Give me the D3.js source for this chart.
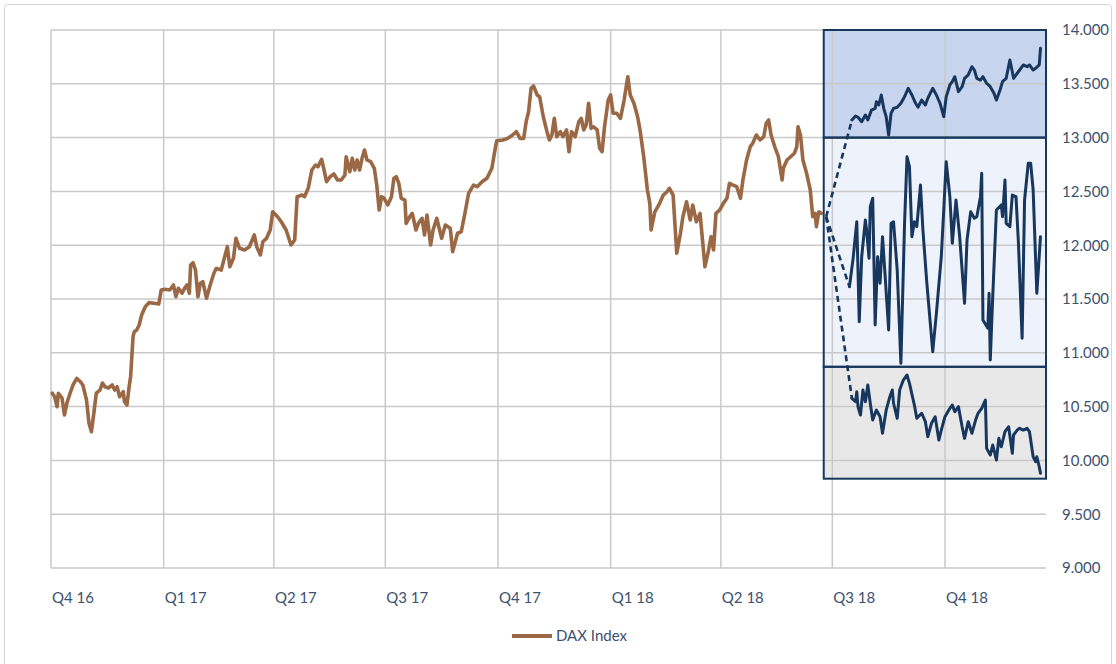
<!DOCTYPE html>
<html>
<head>
<meta charset="utf-8">
<script src="https://cdn.jsdelivr.net/npm/d3@7"></script>
<style>
  html, body { margin: 0; padding: 0; background: #ffffff; }
  svg { display: block; }
</style>
</head>
<body>
<svg id="chart" width="1116" height="664"></svg>
<script>
// ---------------- DATA ----------------
const seriesName = "DAX Index";

const daxDates = [
"2016-10-02","2016-10-04","2016-10-06","2016-10-07","2016-10-10","2016-10-12","2016-10-14","2016-10-17","2016-10-19","2016-10-22","2016-10-25","2016-10-27","2016-10-30",
"2016-11-01","2016-11-03","2016-11-05","2016-11-07","2016-11-10","2016-11-12","2016-11-14","2016-11-17","2016-11-20","2016-11-22","2016-11-24","2016-11-26","2016-11-29","2016-11-30",
"2016-12-02","2016-12-04","2016-12-05","2016-12-07","2016-12-08","2016-12-10","2016-12-12","2016-12-14","2016-12-17","2016-12-20","2016-12-24","2016-12-28","2016-12-30",
"2017-01-02","2017-01-06","2017-01-09","2017-01-11","2017-01-13","2017-01-16","2017-01-18","2017-01-20","2017-01-22","2017-01-23","2017-01-25","2017-01-27","2017-01-29","2017-01-31",
"2017-02-02","2017-02-05","2017-02-08","2017-02-11","2017-02-13","2017-02-17","2017-02-20","2017-02-22","2017-02-24","2017-02-27",
"2017-03-01","2017-03-04","2017-03-08","2017-03-12","2017-03-16","2017-03-18","2017-03-21","2017-03-23","2017-03-26","2017-03-29","2017-03-31",
"2017-04-04","2017-04-07","2017-04-11","2017-04-15","2017-04-18","2017-04-20","2017-04-24","2017-04-26","2017-04-29",
"2017-05-02","2017-05-05","2017-05-07","2017-05-10","2017-05-12","2017-05-14","2017-05-17","2017-05-20","2017-05-23","2017-05-26","2017-05-29","2017-05-30",
"2017-06-02","2017-06-04","2017-06-06","2017-06-08","2017-06-10","2017-06-12","2017-06-14","2017-06-16","2017-06-19","2017-06-22","2017-06-24","2017-06-26","2017-06-28","2017-06-30",
"2017-07-03","2017-07-06","2017-07-08","2017-07-10","2017-07-12","2017-07-14","2017-07-17","2017-07-18","2017-07-21","2017-07-23","2017-07-26","2017-07-28","2017-07-31",
"2017-08-02","2017-08-04","2017-08-07","2017-08-09","2017-08-12","2017-08-16","2017-08-19","2017-08-23","2017-08-25","2017-08-29",
"2017-09-01","2017-09-04","2017-09-07","2017-09-11","2017-09-14","2017-09-18","2017-09-22","2017-09-26","2017-09-29","2017-09-30",
"2017-10-05","2017-10-09","2017-10-13","2017-10-16","2017-10-19","2017-10-22","2017-10-24","2017-10-26","2017-10-28","2017-10-30",
"2017-11-02","2017-11-04","2017-11-07","2017-11-10","2017-11-12","2017-11-14","2017-11-16","2017-11-18","2017-11-21","2017-11-23","2017-11-26","2017-11-28","2017-11-30",
"2017-12-03","2017-12-06","2017-12-08","2017-12-10","2017-12-12","2017-12-14","2017-12-16","2017-12-18","2017-12-21","2017-12-23","2017-12-25","2017-12-27","2017-12-30",
"2018-01-01","2018-01-03","2018-01-06","2018-01-09","2018-01-12","2018-01-15","2018-01-17","2018-01-20","2018-01-23","2018-01-25","2018-01-28","2018-01-31",
"2018-02-02","2018-02-03","2018-02-06","2018-02-10","2018-02-13","2018-02-16","2018-02-18","2018-02-21","2018-02-24","2018-02-27",
"2018-03-01","2018-03-04","2018-03-07","2018-03-09","2018-03-12","2018-03-15","2018-03-17","2018-03-19","2018-03-22","2018-03-24","2018-03-26","2018-03-28","2018-03-31",
"2018-04-03","2018-04-06","2018-04-08","2018-04-11","2018-04-14","2018-04-17","2018-04-19","2018-04-22","2018-04-25","2018-04-27","2018-04-30",
"2018-05-03","2018-05-06","2018-05-08","2018-05-10","2018-05-12","2018-05-15","2018-05-18","2018-05-21","2018-05-22","2018-05-25","2018-05-28","2018-05-31",
"2018-06-02","2018-06-03","2018-06-05","2018-06-07","2018-06-10","2018-06-13","2018-06-15","2018-06-17","2018-06-18","2018-06-20","2018-06-22"
];
const daxValues = [
10624,10592,10499,10624,10580,10422,10533,10638,10701,10763,10731,10701,10561,
10347,10267,10440,10626,10654,10719,10685,10673,10701,10654,10685,10592,10638,10545,
10515,10701,10778,11150,11196,11212,11258,11351,11428,11466,11460,11453,11584,
11590,11584,11630,11521,11599,11553,11599,11630,11553,11816,11837,11769,11521,11646,
11661,11506,11630,11739,11785,11769,11900,11986,11800,11878,
12064,11971,11955,11986,12095,11986,11909,12032,12064,12141,12311,
12265,12218,12141,12002,12048,12451,12466,12451,12529,
12699,12745,12730,12798,12699,12590,12637,12662,12606,12606,12652,12822,
12683,12808,12699,12792,12699,12808,12885,12792,12776,12715,12559,12327,12451,12436,
12374,12451,12622,12637,12575,12436,12420,12203,12265,12296,12141,12203,12250,
12095,12281,12002,12141,12250,12064,12188,12157,11940,12111,
12125,12296,12482,12559,12544,12590,12622,12715,12915,12971,
12978,12993,13024,13055,12993,12993,13148,13241,13458,13480,
13396,13380,13194,13055,12978,13024,13179,13008,13055,13008,13071,12869,13055,
13008,13148,13179,13071,13117,13319,13086,13101,13071,12901,12869,13101,13349,
13396,13226,13226,13179,13349,13566,13396,13319,13194,13071,12822,12513,
12389,12141,12308,12389,12466,12497,12529,12466,11925,12111,
12265,12404,12234,12374,12218,12296,12048,11800,11955,12079,11955,12296,12327,
12389,12436,12575,12559,12544,12436,12606,12792,12915,12947,13024,
12978,13008,13133,13164,13024,12915,12822,12606,12715,12792,12822,12854,
12915,13101,13024,12792,12668,12513,12265,12296,12172,12311,12296
];

// scenario paths (bull / base / bear)
const bullDates = [
"2018-07-17","2018-07-20","2018-07-22","2018-07-25","2018-07-28","2018-07-30",
"2018-08-02","2018-08-05","2018-08-06","2018-08-08","2018-08-10","2018-08-12","2018-08-14","2018-08-16","2018-08-18","2018-08-20","2018-08-23","2018-08-26","2018-08-29",
"2018-09-01","2018-09-04","2018-09-07","2018-09-09","2018-09-12","2018-09-15","2018-09-17","2018-09-19","2018-09-21","2018-09-24","2018-09-27","2018-09-30",
"2018-10-02","2018-10-05","2018-10-07","2018-10-09","2018-10-12","2018-10-15","2018-10-17","2018-10-20","2018-10-23","2018-10-25","2018-10-27","2018-10-30",
"2018-11-01","2018-11-04","2018-11-07","2018-11-10","2018-11-12","2018-11-15","2018-11-17","2018-11-20","2018-11-23","2018-11-25","2018-11-26","2018-11-29",
"2018-12-01","2018-12-04","2018-12-07","2018-12-09","2018-12-12","2018-12-14","2018-12-17","2018-12-18"
];
const bullValues = [
13164,13201,13189,13148,13210,13164,
13256,13272,13334,13303,13396,13272,13194,13024,13226,13272,13282,13319,13380,
13458,13396,13319,13282,13349,13303,13365,13412,13458,13396,13319,13194,
13380,13489,13520,13566,13427,13473,13551,13582,13659,13628,13551,13535,
13566,13505,13473,13412,13349,13442,13520,13551,13721,13612,13551,13598,
13628,13675,13659,13675,13628,13644,13675,13830
];

const baseDates = [
"2018-07-15","2018-07-18","2018-07-21","2018-07-23","2018-07-25","2018-07-28","2018-07-29","2018-07-31",
"2018-08-01","2018-08-03","2018-08-05","2018-08-07","2018-08-09","2018-08-11","2018-08-13","2018-08-16","2018-08-18","2018-08-20","2018-08-23","2018-08-26","2018-08-29","2018-08-31",
"2018-09-02","2018-09-04","2018-09-06","2018-09-08","2018-09-11","2018-09-13","2018-09-16","2018-09-21","2018-09-24","2018-09-28","2018-09-30",
"2018-10-02","2018-10-05","2018-10-07","2018-10-10","2018-10-13","2018-10-17","2018-10-19","2018-10-22","2018-10-25","2018-10-27","2018-10-30","2018-10-31",
"2018-11-01","2018-11-05","2018-11-06","2018-11-07","2018-11-09","2018-11-12","2018-11-16","2018-11-17","2018-11-19","2018-11-20","2018-11-23","2018-11-25","2018-11-28","2018-11-30",
"2018-12-03","2018-12-05","2018-12-08","2018-12-10","2018-12-12","2018-12-15","2018-12-18"
];
const baseValues = [
11614,11878,12218,11289,11893,12234,12141,11878,
12358,12436,11258,11893,11646,12079,11739,11212,12203,12218,11769,10902,12203,12822,
12730,12079,12218,12172,12559,12141,11676,11010,11367,11893,12327,
12776,12451,12018,12420,12079,11460,12048,12311,12250,12265,12451,12668,
11305,11228,11553,10933,11521,12327,12374,12265,12606,12203,12172,12466,12451,12018,
11135,12420,12761,12761,12513,11553,12079
];

const bearDates = [
"2018-07-17","2018-07-20","2018-07-21","2018-07-22","2018-07-24","2018-07-26","2018-07-28","2018-07-30",
"2018-08-01","2018-08-03","2018-08-06","2018-08-09","2018-08-11","2018-08-14","2018-08-17","2018-08-19","2018-08-20","2018-08-23","2018-08-25","2018-08-28","2018-08-31",
"2018-09-02","2018-09-06","2018-09-08","2018-09-12","2018-09-15","2018-09-17","2018-09-20","2018-09-23","2018-09-26","2018-09-28",
"2018-10-01","2018-10-05","2018-10-07","2018-10-09","2018-10-12","2018-10-15","2018-10-17","2018-10-20","2018-10-23","2018-10-26","2018-10-28","2018-10-31",
"2018-11-03","2018-11-04","2018-11-07","2018-11-09","2018-11-12","2018-11-14","2018-11-16","2018-11-19","2018-11-22","2018-11-25","2018-11-26","2018-11-29",
"2018-12-01","2018-12-04","2018-12-07","2018-12-09","2018-12-12","2018-12-14","2018-12-15","2018-12-17","2018-12-18"
];
const bearValues = [
10577,10545,10638,10499,10422,10654,10545,10701,
10531,10375,10468,10406,10252,10468,10592,10654,10531,10391,10654,10747,10794,
10716,10515,10391,10438,10360,10220,10345,10406,10189,10282,
10406,10484,10515,10452,10499,10313,10205,10360,10252,10375,10438,10484,
10561,10112,10050,10143,10004,10205,10127,10267,10313,10066,10236,10282,
10298,10282,10298,10267,10034,9988,10034,9941,9880
];

// start point of the dashed connectors
const anchorDate = "2018-06-26";
const anchorValue = 12265;

// scenario bands (value ranges)
const bandStart = "2018-06-24";
const bandLows  = [13000, 10870, 9830];
const bandHighs = [14000, 13000, 10870];

// axes
const quarterDates  = ["2016-10-01","2017-01-01","2017-04-01","2017-07-01","2017-10-01","2018-01-01","2018-04-01","2018-07-01","2018-10-01"];
const quarterLabels = ["Q4 16","Q1 17","Q2 17","Q3 17","Q4 17","Q1 18","Q2 18","Q3 18","Q4 18"];
const yTicks = [9000,9500,10000,10500,11000,11500,12000,12500,13000,13500,14000];
const xDomain = ["2016-10-01","2018-12-22T12:00"];

// ---------------- RENDER ----------------
const parse = d3.isoParse;
const svg = d3.select("#chart");

const x = d3.scaleTime().domain(xDomain.map(parse)).range([51, 1046]);
const y = d3.scaleLinear().domain([9000, 14000]).range([568, 30]);

const de = d3.formatLocale({decimal: ",", thousands: ".", grouping: [3], currency: ["", "€"]});
const fmt = de.format(",");

const textColor = "#3c5170";
const navy = "#17375e";
const brown = "#9a6845";
const gridColor = "#c9c9c9";
const bandFills = ["#c8d5ee", "#eef2fa", "#e8e8e8"];

// outer frame
svg.append("rect")
  .attr("x", 4.5).attr("y", 4.5).attr("width", 1107).attr("height", 680)
  .attr("rx", 3)
  .attr("fill", "none").attr("stroke", "#d4d4d4").attr("stroke-width", 1);

// band fills
const bandX0 = x(parse(bandStart));
const bandX1 = x.range()[1];
const bands = bandLows.map((lo, i) => ({lo, hi: bandHighs[i], fill: bandFills[i]}));
svg.append("g").selectAll("rect").data(bands).join("rect")
  .attr("x", bandX0).attr("width", bandX1 - bandX0)
  .attr("y", d => y(d.hi)).attr("height", d => y(d.lo) - y(d.hi))
  .attr("fill", d => d.fill);

// gridlines
const grid = svg.append("g");
grid.selectAll("line.h").data(yTicks).join("line").attr("class", "h")
  .attr("x1", x.range()[0]).attr("x2", x.range()[1])
  .attr("y1", d => y(d)).attr("y2", d => y(d))
  .attr("stroke", gridColor).attr("stroke-width", 1.5);
grid.selectAll("line.v").data(quarterDates).join("line").attr("class", "v")
  .attr("x1", d => x(parse(d))).attr("x2", d => x(parse(d)))
  .attr("y1", y(14000)).attr("y2", y(9000))
  .attr("stroke", gridColor).attr("stroke-width", 1.5);

// band borders
svg.append("g").selectAll("rect").data(bands).join("rect")
  .attr("x", bandX0).attr("width", bandX1 - bandX0)
  .attr("y", d => y(d.hi)).attr("height", d => y(d.lo) - y(d.hi))
  .attr("fill", "none").attr("stroke", navy).attr("stroke-width", 2);

// lines
const line = d3.line().x(d => x(d.date)).y(d => y(d.value));
const toPts = (dates, vals) => dates.map((d, i) => ({date: parse(d), value: vals[i]}));

const dax = toPts(daxDates, daxValues);
svg.append("path").datum(dax).attr("d", line)
  .attr("fill", "none").attr("stroke", brown).attr("stroke-width", 3.6)
  .attr("stroke-linejoin", "round").attr("stroke-linecap", "round");

const scen = [toPts(bullDates, bullValues), toPts(baseDates, baseValues), toPts(bearDates, bearValues)];
const anchor = {date: parse(anchorDate), value: anchorValue};

// dashed connectors
svg.append("g").selectAll("path").data(scen).join("path")
  .attr("d", s => line([anchor, s[0]]))
  .attr("fill", "none").attr("stroke", navy).attr("stroke-width", 2.6)
  .attr("stroke-dasharray", "6,4");

svg.append("g").selectAll("path").data(scen).join("path")
  .attr("d", line)
  .attr("fill", "none").attr("stroke", navy).attr("stroke-width", 3)
  .attr("stroke-linejoin", "round").attr("stroke-linecap", "round");

// y labels (right)
svg.append("g").selectAll("text").data(yTicks).join("text")
  .attr("x", 1062).attr("y", d => y(d)).attr("dy", "0.36em")
  .attr("font-family", "Lato, 'Open Sans', sans-serif").attr("font-size", 15)
  .attr("fill", textColor).text(d => fmt(d));

// x labels
svg.append("g").selectAll("text").data(quarterDates).join("text")
  .attr("x", d => x(parse(d)) + 1).attr("y", 603)
  .attr("font-family", "Lato, 'Open Sans', sans-serif").attr("font-size", 15)
  .attr("fill", textColor).text((d, i) => quarterLabels[i]);

// legend
const lg = svg.append("g");
lg.append("line").attr("x1", 512).attr("x2", 552).attr("y1", 636).attr("y2", 636)
  .attr("stroke", brown).attr("stroke-width", 4);
lg.append("text").attr("x", 556).attr("y", 641)
  .attr("font-family", "Lato, 'Open Sans', sans-serif").attr("font-size", 15)
  .attr("fill", textColor).text(seriesName);
</script>
</body>
</html>
